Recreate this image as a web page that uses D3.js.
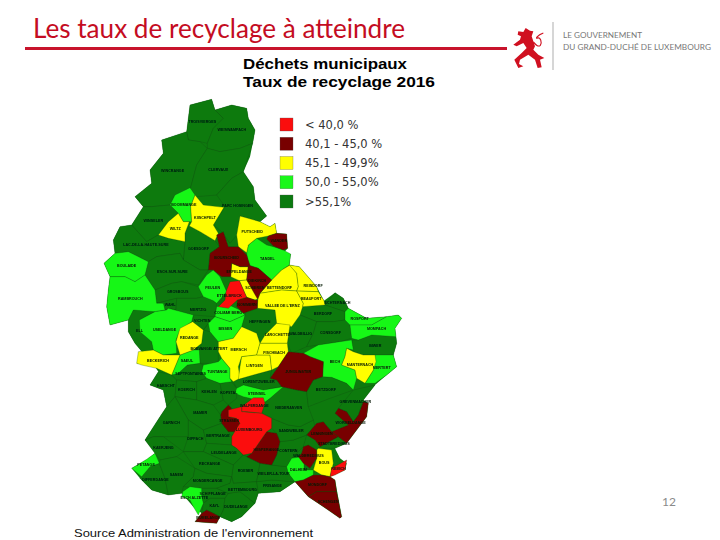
<!DOCTYPE html>
<html>
<head>
<meta charset="utf-8">
<script src="https://cdn.jsdelivr.net/npm/d3@7"></script>
<style>
  html, body { margin: 0; background: #fff; }
</style>
</head>
<body>
<svg id="chart" width="720" height="540"></svg>
<script>
const legendLabels = ["< 40,0 %", "40,1 - 45,0 %", "45,1 - 49,9%", "50,0 - 55,0%", ">55,1%"];
const legendColors = ["#fb0d0d", "#780000", "#ffff00", "#19f719", "#0a7a0f"];

// pays entier, sert de fond vert fonce
const countryRing = [[270,45],[335,28],[345,60],[395,45],[440,55],[445,85],[465,120],[458,160],[450,200],[430,245],[460,290],[465,330],[500,378],[480,395],[510,410],[525,400],[530,430],[560,432],[563,475],[550,490],[572,492],[568,525],[598,530],[650,590],[672,632],[705,608],[730,625],[745,655],[800,685],[860,680],[895,675],[905,685],[885,715],[890,760],[880,795],[890,830],[860,855],[825,885],[790,930],[805,940],[800,980],[770,1020],[740,1060],[705,1075],[720,1105],[740,1120],[735,1140],[690,1160],[705,1170],[725,1280],[720,1285],[670,1250],[625,1220],[585,1175],[540,1205],[475,1210],[465,1240],[425,1280],[395,1295],[360,1280],[350,1300],[285,1295],[305,1270],[280,1250],[245,1210],[205,1215],[155,1200],[120,1165],[95,1135],[140,1110],[165,1090],[135,1050],[180,980],[200,950],[190,900],[150,885],[175,845],[165,830],[110,820],[130,790],[105,760],[85,725],[85,690],[30,705],[20,650],[25,600],[30,560],[12,520],[45,490],[40,450],[60,410],[95,405],[130,350],[105,320],[155,280],[150,240],[190,190],[185,150],[260,125]];

const communeNames = [
  "TROISVIERGES","WEISWAMPACH","WINCRANGE","CLERVAUX","PARC HOSINGEN","WINSELER","GOESDORF","LAC-DE-LA-HAUTE-SURE","ESCH-SUR-SURE","GROSBOUS","WAHL","MERTZIG","ELL","VICHTEN","BOEVANGE/ ATTERT","HEFFINGEN","ECHTERNACH","BERDORF","WALDBILLIG","CONSDORF","BIWER","LORENTZWEILER","HABSCHT","SEPTFONTAINES","KOERICH","KEHLEN","KOPSTAL","MAMER","GARNICH","DIPPACH","BERTRANGE","LEUDELANGE","ROESER","RECKANGE","KAERJENG","DIFFERDANGE","SANEM","MONDERCANGE","SCHIFFLANGE","KAYL","DUDELANGE","BETTEMBOURG","FRISANGE","WEILER-LA-TOUR","CONTERN","SANDWEILER","NIEDERANVEN","BETZDORF","GREVENMACHER","STADTBREDIMUS",
  "BOOMMANGE","BOULAIDE","RAMBROUCH","FEULEN","TANDEL","USELDANGE","SAEUL","COLMAR BERG","BISSEN","TUNTANGE","ROSPORT","MOMPACH","BECH","MERTERT","STEINSEL","PETANGE","DALHEIM","ESCH ALZETTE",
  "WILTZ","KIISCHPELT","PUTSCHEID","ERPELDANGE","SCHIEREN","BETTENDORF","REISDORF","VALLEE DE L'ERNZ","BEAUFORT","REDANGE","BECKERICH","MERSCH","LINTGEN","LAROCHETTE","FISCHBACH","MANTERNACH","BOUS",
  "BOURSCHEID","VIANDEN","DIEKIRCH","NOMMERN","JUNGLINSTER","STRASSEN","HESPERANGE","LENNINGEN","WORMELDANGE","WALDBREDIMUS","MONDORF","SCHENGEN","RUMELANGE",
  "ETTELBRUCK","WALFERDANGE","LUXEMBOURG","REMICH"
];

// indice dans legendLabels
const communeClasses = [
  4,4,4,4,4,4,4,4,4,4,4,4,4,4,4,4,4,4,4,4,4,4,4,4,4,4,4,4,4,4,4,4,4,4,4,4,4,4,4,4,4,4,4,4,4,4,4,4,4,4,
  3,3,3,3,3,3,3,3,3,3,3,3,3,3,3,3,3,3,
  2,2,2,2,2,2,2,2,2,2,2,2,2,2,2,2,2,
  1,1,1,1,1,1,1,1,1,1,1,1,1,
  0,0,0,0
];

const communeRings = [
  [[270,45],[335,28],[345,60],[370,85],[340,115],[322,160],[300,155],[265,150],[260,125]],
  [[345,60],[395,45],[440,55],[445,85],[465,120],[458,160],[420,175],[360,185],[322,175],[322,160],[340,115],[370,85]],
  [[260,125],[265,150],[300,155],[322,175],[290,225],[270,300],[225,315],[210,345],[155,350],[130,350],[105,320],[155,280],[150,240],[190,190],[185,150]],
  [[322,175],[360,185],[420,175],[458,160],[430,245],[395,265],[350,315],[290,320],[270,300],[290,225]],
  [[430,245],[460,290],[465,330],[500,378],[480,395],[420,378],[415,430],[390,460],[365,425],[340,405],[375,350],[350,315],[395,265]],
  [[130,350],[155,350],[210,345],[235,370],[205,395],[175,435],[140,455],[95,405]],
  [[268,408],[300,425],[345,452],[358,470],[330,490],[325,540],[300,540],[250,510],[255,455],[255,430]],
  [[60,410],[95,405],[140,455],[175,435],[205,445],[255,455],[250,510],[240,490],[170,500],[145,515],[105,495],[85,485],[45,490],[40,450]],
  [[145,515],[170,500],[240,490],[250,510],[300,540],[325,540],[295,585],[245,575],[215,580],[165,600],[135,555]],
  [[165,600],[215,580],[245,575],[295,590],[310,620],[290,625],[230,625],[170,640]],
  [[170,640],[230,625],[228,660],[205,655],[195,660],[190,640]],
  [[230,625],[290,625],[310,620],[340,632],[350,640],[345,680],[325,700],[310,720],[278,695],[280,675],[205,655],[228,660]],
  [[100,660],[165,665],[118,690],[120,725],[155,755],[160,780],[130,790],[105,760],[85,725],[85,690]],
  [[280,675],[345,680],[325,700],[310,720],[278,695]],
  [[310,720],[330,725],[355,755],[355,785],[355,815],[335,820],[300,820],[298,780],[305,760]],
  [[435,675],[440,660],[480,655],[525,660],[530,700],[495,735],[480,760],[470,730],[425,710]],
  [[675,645],[705,608],[730,625],[745,655],[735,665]],
  [[608,650],[675,645],[735,665],[735,690],[700,695],[650,695],[600,675]],
  [[600,675],[650,695],[640,730],[620,770],[575,790],[562,760],[570,705]],
  [[650,695],[700,695],[735,690],[750,705],[755,745],[720,755],[655,765],[620,770],[640,730]],
  [[755,750],[775,750],[815,735],[888,740],[890,760],[880,795],[825,795],[790,795],[760,785]],
  [[415,868],[460,855],[515,840],[510,865],[530,870],[545,890],[490,900],[430,885],[410,895],[400,875]],
  [[150,885],[175,845],[215,855],[230,870],[225,920],[200,950],[190,900]],
  [[215,855],[265,825],[300,820],[310,825],[305,845],[320,865],[290,875],[230,870]],
  [[230,870],[290,875],[290,930],[225,920]],
  [[290,875],[320,865],[360,880],[370,930],[340,945],[290,930]],
  [[360,880],[395,875],[410,895],[410,925],[385,945],[370,930]],
  [[225,920],[290,930],[340,945],[362,975],[365,1000],[310,1020],[265,990]],
  [[200,950],[225,920],[265,990],[265,1040],[190,1040],[160,1040],[135,1050],[180,980]],
  [[265,990],[310,1020],[320,1060],[310,1085],[250,1085],[265,1040]],
  [[310,1020],[365,1000],[385,1025],[395,1040],[395,1065],[320,1060]],
  [[320,1060],[395,1065],[410,1075],[430,1095],[400,1125],[310,1085]],
  [[400,1125],[430,1095],[440,1100],[480,1120],[470,1175],[400,1180],[395,1160]],
  [[250,1085],[310,1085],[400,1125],[395,1160],[320,1150],[285,1135]],
  [[135,1050],[160,1040],[190,1040],[250,1085],[230,1100],[180,1110],[165,1090]],
  [[125,1160],[150,1130],[178,1120],[195,1165],[205,1215],[155,1200],[120,1165]],
  [[178,1120],[180,1110],[230,1100],[285,1135],[280,1160],[250,1190],[245,1210],[205,1215],[195,1165]],
  [[285,1135],[320,1150],[395,1160],[390,1180],[350,1195],[305,1195],[250,1190],[280,1160]],
  [[305,1195],[350,1195],[385,1210],[375,1225],[330,1225],[310,1240],[305,1220]],
  [[310,1240],[330,1225],[375,1225],[370,1260],[360,1280],[340,1270],[320,1260],[305,1270]],
  [[375,1225],[385,1210],[420,1205],[465,1240],[425,1280],[395,1295],[360,1280],[370,1260]],
  [[350,1195],[390,1180],[395,1160],[400,1180],[470,1175],[475,1210],[465,1240],[420,1205],[385,1210]],
  [[470,1175],[515,1170],[585,1175],[540,1205],[475,1210]],
  [[480,1120],[515,1125],[560,1130],[565,1150],[585,1175],[515,1170],[470,1175]],
  [[540,1055],[530,1095],[515,1125],[560,1130],[575,1105],[610,1070],[620,1035],[580,1050]],
  [[515,985],[565,1005],[600,1010],[640,990],[645,1010],[620,1035],[580,1050],[540,1055],[530,1030],[515,1015]],
  [[490,940],[510,925],[545,890],[590,900],[620,905],[625,950],[640,990],[600,1010],[565,1005],[515,985],[485,970]],
  [[620,905],[640,870],[668,860],[695,862],[740,880],[760,900],[690,925],[625,950]],
  [[760,900],[825,885],[790,930],[775,975],[760,995],[740,965],[715,955]],
  [[660,1070],[715,1040],[740,1060],[705,1075],[655,1075]],

  [[225,315],[270,293],[285,315],[272,350],[275,395],[250,395],[235,370],[210,345]],
  [[12,520],[45,490],[85,485],[105,495],[145,515],[135,555],[105,575],[75,560],[30,560]],
  [[30,560],[75,560],[105,575],[135,555],[165,600],[170,640],[190,640],[195,660],[165,665],[100,660],[85,690],[30,705],[20,650],[25,600]],
  [[295,590],[320,555],[340,540],[360,560],[380,605],[350,640],[340,632],[310,620]],
  [[440,488],[445,465],[470,445],[500,465],[520,470],[550,480],[572,492],[568,525],[545,540],[515,570],[475,535],[445,525]],
  [[118,690],[165,665],[200,660],[205,655],[280,675],[275,695],[240,720],[228,750],[230,790],[190,795],[160,780],[155,755],[120,725]],
  [[240,795],[280,780],[298,780],[300,820],[262,825],[235,850],[215,855]],
  [[350,650],[380,642],[420,660],[435,675],[390,695],[345,680]],
  [[345,680],[390,695],[435,675],[425,710],[400,745],[355,755],[330,725],[325,700]],
  [[310,825],[335,820],[355,815],[365,805],[390,835],[390,865],[395,875],[360,880],[320,865],[305,845]],
  [[735,665],[745,655],[800,685],[860,680],[815,705],[750,705],[735,690]],
  [[750,705],[815,705],[860,680],[895,675],[905,685],[885,715],[888,740],[815,735],[775,750],[755,745]],
  [[610,790],[655,765],[720,755],[755,750],[760,780],[740,775],[735,800],[725,825],[765,840],[770,865],[760,900],[740,880],[695,862],[668,860],[670,815],[630,800]],
  [[825,795],[880,795],[890,830],[860,855],[825,880],[795,880],[820,840]],
  [[410,895],[430,885],[490,900],[550,890],[510,925],[490,940],[450,925],[430,920],[405,910]],
  [[95,1135],[140,1108],[165,1090],[178,1120],[150,1130],[125,1160]],
  [[575,1105],[605,1100],[612,1120],[612,1140],[640,1140],[640,1155],[610,1170],[585,1175],[565,1150],[560,1130]],
  [[248,1205],[270,1190],[305,1195],[305,1220],[310,1240],[295,1275],[280,1250],[270,1230],[245,1220]],

  [[235,370],[250,395],[268,395],[255,430],[255,455],[205,445],[175,435],[205,395]],
  [[285,315],[310,345],[372,352],[340,405],[355,430],[345,452],[300,425],[268,408],[275,395],[272,350]],
  [[420,378],[480,395],[510,410],[525,400],[530,430],[505,438],[470,445],[445,465],[440,488],[415,470],[410,435]],
  [[395,520],[420,530],[445,530],[440,570],[418,572],[392,560]],
  [[418,572],[440,570],[478,625],[465,630],[440,622]],
  [[515,570],[545,540],[570,525],[590,550],[595,590],[590,603],[545,600],[480,610]],
  [[568,525],[598,530],[650,590],[655,605],[590,603],[595,590],[590,550]],
  [[480,610],[545,600],[590,603],[610,640],[608,650],[600,675],[575,710],[530,700],[525,660],[472,655],[473,630]],
  [[590,603],[655,605],[672,632],[675,645],[608,650],[610,640]],
  [[240,715],[278,695],[310,720],[305,760],[280,780],[240,795],[228,755]],
  [[115,785],[160,780],[190,795],[240,795],[215,855],[170,835],[125,825],[110,820]],
  [[355,755],[400,745],[425,710],[470,730],[480,760],[470,795],[425,800],[415,830],[420,865],[400,875],[390,865],[390,835],[365,805],[355,785]],
  [[425,800],[470,795],[510,795],[515,840],[460,855],[415,868],[420,830]],
  [[495,735],[530,700],[570,705],[562,760],[480,760]],
  [[480,760],[562,760],[565,785],[535,830],[515,840],[510,795],[470,795]],
  [[740,775],[760,785],[790,795],[825,795],[828,815],[820,840],[795,880],[770,865],[765,840],[725,825],[735,800]],
  [[655,1075],[695,1080],[700,1120],[690,1160],[665,1155],[640,1140],[650,1105],[650,1080]],

  [[350,435],[370,425],[385,470],[415,470],[440,495],[450,525],[445,530],[420,530],[395,520],[392,560],[365,560],[340,540],[325,540],[330,490],[358,470]],
  [[505,438],[530,430],[560,432],[563,475],[550,480],[520,468],[500,447]],
  [[445,525],[475,535],[515,570],[480,610],[473,628],[440,570]],
  [[412,630],[440,622],[465,630],[473,630],[472,655],[430,670],[410,650]],
  [[510,865],[535,830],[565,785],[610,790],[630,800],[670,815],[668,860],[640,870],[620,905],[590,900],[545,890],[530,870]],
  [[365,965],[385,945],[395,955],[385,980],[410,985],[420,1000],[405,1025],[385,1025],[365,1000],[362,975]],
  [[455,1090],[500,1025],[530,1030],[540,1055],[530,1095],[515,1125],[480,1120],[440,1100]],
  [[620,1035],[650,1000],[670,995],[695,1025],[715,1040],[660,1070],[645,1050]],
  [[695,1025],[745,1005],[705,970],[715,955],[740,965],[760,995],[775,975],[790,935],[805,940],[800,980],[770,1020],[740,1060],[715,1040]],
  [[610,1070],[625,1065],[650,1080],[650,1105],[630,1135],[610,1120],[595,1100],[605,1090]],
  [[585,1175],[610,1170],[640,1155],[665,1155],[690,1160],[705,1170],[710,1205],[650,1205],[625,1220]],
  [[625,1220],[650,1205],[710,1205],[725,1280],[720,1285],[670,1250]],
  [[285,1295],[305,1270],[320,1260],[340,1270],[360,1280],[350,1300]],

  [[390,575],[418,572],[440,622],[412,630],[385,655],[355,650],[375,630],[378,605]],
  [[425,950],[445,935],[460,923],[490,923],[495,940],[485,970],[440,965],[425,965]],
  [[385,960],[425,950],[425,965],[485,970],[515,985],[515,1015],[500,1025],[455,1090],[430,1095],[410,1075],[395,1065],[395,1040],[410,1015],[420,1000],[410,985],[385,980]],
  [[695,1135],[740,1110],[735,1140],[705,1155],[690,1160]]
];

// etiquettes qui ne sont pas au centre de leur commune
const labelShift = { BETTENDORF: [-4, 6], REISDORF: [9, 5], ERPELDANGE: [0, -1], SCHIEREN: [6, -3], ETTELBRUCK: [-4, 1] };

const svg = d3.select("#chart");

svg.append("defs").append("filter").attr("id", "soft")
  .append("feGaussianBlur").attr("stdDeviation", 0.3);

const projection = d3.geoIdentity().scale(1 / 3).translate([100, 90]);
const path = d3.geoPath(projection);
const color = d3.scaleOrdinal().domain(d3.range(legendLabels.length)).range(legendColors);

const toPolygon = ring => ({ type: "Polygon", coordinates: [ring.concat([ring[0]])] });

// en-tete
svg.append("text").attr("x", 33).attr("y", 38)
  .attr("font-family", "Lato").attr("font-size", 26).attr("fill", "#c40c22")
  .attr("textLength", 372).attr("lengthAdjust", "spacingAndGlyphs")
  .text("Les taux de recyclage à atteindre");
svg.append("rect").attr("x", 25).attr("y", 47).attr("width", 482).attr("height", 3).attr("fill", "#c8142c");

// lion du logo
const logo = svg.append("g").attr("transform", "translate(505,18) scale(0.3333)");
logo.append("path").attr("fill", "#d01020")
  .attr("d", "M40 40L55 42 62 30 75 38 85 40 80 55 85 70 90 85 85 95 100 110 118 120 105 125 110 148 98 150 90 125 70 110 45 125 42 138 55 145 40 150 28 125 50 105 65 90 55 75 35 85 25 80 45 65 48 55 38 50Z");
logo.append("path").attr("fill", "none").attr("stroke", "#d01020").attr("stroke-width", 3.5)
  .attr("d", "M85 72C92 80 100 88 106 82 112 74 106 56 98 60 90 64 96 52 115 45");
svg.append("line").attr("x1", 553).attr("x2", 553).attr("y1", 22).attr("y2", 70)
  .attr("stroke", "#8a8a8a").attr("stroke-width", 0.7);
svg.append("text").attr("x", 563).attr("y", 37.5)
  .attr("font-family", "Lato").attr("font-size", 7).attr("fill", "#777")
  .attr("textLength", 79).attr("lengthAdjust", "spacingAndGlyphs")
  .text("LE GOUVERNEMENT");
svg.append("text").attr("x", 563).attr("y", 49.5)
  .attr("font-family", "Lato").attr("font-size", 7).attr("fill", "#777")
  .attr("textLength", 148).attr("lengthAdjust", "spacingAndGlyphs")
  .text("DU GRAND-DUCHÉ DE LUXEMBOURG");

const mapTitles = ["Déchets municipaux", "Taux de recyclage 2016"];
const mapTitleWidths = [164, 192];
svg.selectAll(".map-title").data(mapTitles).join("text")
  .attr("class", "map-title").attr("x", 243).attr("y", (d, i) => 69 + i * 18)
  .attr("font-family", "Liberation Sans").attr("font-weight", "bold").attr("font-size", 14.5)
  .attr("textLength", (d, i) => mapTitleWidths[i]).attr("lengthAdjust", "spacingAndGlyphs")
  .text(d => d);

// carte
const map = svg.append("g").attr("filter", "url(#soft)");
map.append("path").datum(toPolygon(countryRing)).attr("d", path)
  .attr("fill", legendColors[4]);

map.append("g").selectAll("path").data(communeRings).join("path")
  .attr("d", d => path(toPolygon(d)))
  .attr("fill", (d, i) => color(communeClasses[i]))
  .attr("stroke", "#0c4a0c").attr("stroke-width", 0.3).attr("stroke-linejoin", "round");

map.append("g").selectAll("text").data(communeRings).join("text")
  .attr("transform", (d, i) => {
    const c = path.centroid(toPolygon(d));
    const s = labelShift[communeNames[i]] || [0, 0];
    return "translate(" + [c[0] + s[0], c[1] + s[1]] + ")";
  })
  .attr("text-anchor", "middle").attr("dy", 1.3)
  .attr("font-family", "Liberation Sans").attr("font-weight", "bold").attr("font-size", 3.7)
  .attr("fill", "#04180a")
  .text((d, i) => communeNames[i]);

// legende
const legendY = d3.scalePoint().domain(legendLabels).range([124.5, 201.5]);
svg.append("g").selectAll("rect").data(legendLabels).join("rect")
  .attr("x", 280).attr("y", d => legendY(d) - 6.5).attr("width", 13).attr("height", 13)
  .attr("fill", (d, i) => legendColors[i]).attr("stroke", "#555").attr("stroke-width", 0.3);
svg.append("g").selectAll("text").data(legendLabels).join("text")
  .attr("x", 305).attr("y", d => legendY(d) + 4)
  .attr("font-family", "DejaVu Sans").attr("font-size", 11.5).attr("fill", "#333")
  .text(d => d);

svg.append("text").attr("x", 662).attr("y", 506)
  .attr("font-family", "Lato").attr("font-size", 12).attr("fill", "#8a8a8a").text("12");
svg.append("text").attr("x", 74).attr("y", 537)
  .attr("font-family", "Liberation Sans").attr("font-size", 11.5).attr("fill", "#111")
  .attr("textLength", 239).attr("lengthAdjust", "spacingAndGlyphs")
  .text("Source Administration de l'environnement");
</script>
</body>
</html>
